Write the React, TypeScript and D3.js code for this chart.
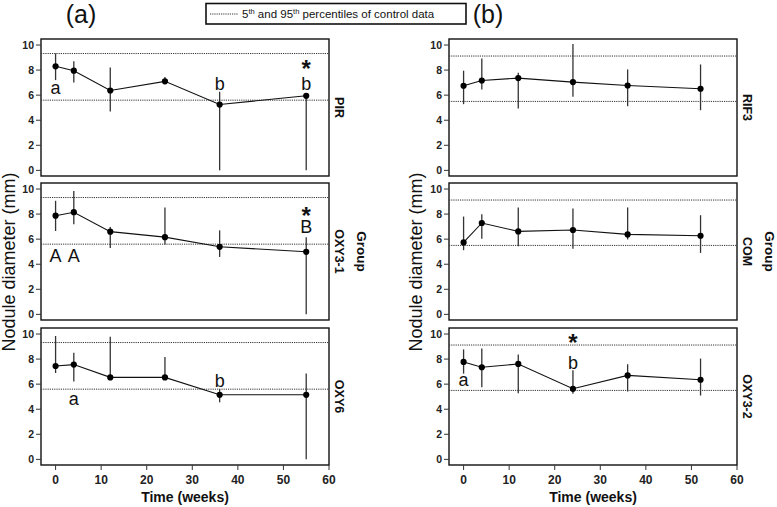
import React from 'react';
import * as d3 from 'd3';

const timesA = [0, 4, 12, 24, 36, 55];
const timesB = [0, 4, 12, 24, 36, 52];

const pirMean = [8.3, 7.95, 6.37, 7.1, 5.25, 5.95];
const pirLo = [7.2, 7.0, 4.7, 6.95, 0, 0];
const pirHi = [9.33, 8.7, 8.2, 7.45, 6.27, 6.1];

const oxy31Mean = [7.87, 8.15, 6.6, 6.16, 5.39, 4.99];
const oxy31Lo = [6.65, 7.18, 5.3, 5.58, 4.58, 0];
const oxy31Hi = [9.06, 9.84, 6.97, 8.53, 6.7, 6.16];

const oxy6Mean = [7.45, 7.56, 6.54, 6.54, 5.15, 5.15];
const oxy6Lo = [6.89, 6.22, 6.54, 6.54, 4.55, 0];
const oxy6Hi = [9.84, 8.5, 9.78, 8.17, 5.6, 6.84];

const rif3Mean = [6.75, 7.17, 7.36, 7.04, 6.77, 6.51];
const rif3Lo = [5.28, 6.45, 4.93, 5.87, 5.12, 4.8];
const rif3Hi = [7.95, 8.93, 7.79, 10.08, 8.05, 8.45];

const comMean = [5.74, 7.29, 6.62, 6.73, 6.38, 6.27];
const comLo = [5.12, 6.03, 5.44, 5.23, 5.98, 4.9];
const comHi = [7.8, 7.99, 8.53, 8.45, 8.53, 7.91];

const oxy32Mean = [7.77, 7.35, 7.61, 5.63, 6.7, 6.35];
const oxy32Lo = [6.84, 5.76, 5.28, 5.23, 5.41, 5.09];
const oxy32Hi = [8.77, 8.85, 8.37, 7.1, 7.59, 8.04];

// 5th and 95th percentiles of control data, per column
const refLinesA = [5.6, 9.32];
const refLinesB = [5.5, 9.12];

const yTicks = [0, 2, 4, 6, 8, 10];
const xTicks = [0, 10, 20, 30, 40, 50, 60];

// significance annotations (letters: baseline value; stars: centre value)
const annGroup = ['PIR', 'PIR', 'PIR', 'PIR', 'OXY3-1', 'OXY3-1', 'OXY3-1', 'OXY3-1', 'OXY6', 'OXY6', 'OXY3-2', 'OXY3-2', 'OXY3-2'];
const annTime = [0, 36, 55, 55, 0, 4, 55, 55, 4, 36, 0, 24, 24];
const annValue = [6.13, 6.45, 6.45, 8.6, 4.18, 4.18, 6.52, 8.4, 4.37, 5.76, 5.82, 7.24, 9.85];
const annText = ['a', 'b', 'b', '*', 'A', 'A', 'B', '*', 'a', 'b', 'a', 'b', '*'];

const W = 777;
const H = 507;
const colX = [[41, 329], [449, 737]];
const rowY = [39, 183, 328];
const panelH = 137;
const FONT = '"Liberation Sans", Arial, Helvetica, sans-serif';

type Panel = {
  name: string;
  col: number;
  row: number;
  times: number[];
  mean: number[];
  lo: number[];
  hi: number[];
};

const panels: Panel[] = [
  { name: 'PIR', col: 0, row: 0, times: timesA, mean: pirMean, lo: pirLo, hi: pirHi },
  { name: 'OXY3-1', col: 0, row: 1, times: timesA, mean: oxy31Mean, lo: oxy31Lo, hi: oxy31Hi },
  { name: 'OXY6', col: 0, row: 2, times: timesA, mean: oxy6Mean, lo: oxy6Lo, hi: oxy6Hi },
  { name: 'RIF3', col: 1, row: 0, times: timesB, mean: rif3Mean, lo: rif3Lo, hi: rif3Hi },
  { name: 'COM', col: 1, row: 1, times: timesB, mean: comMean, lo: comLo, hi: comHi },
  { name: 'OXY3-2', col: 1, row: 2, times: timesB, mean: oxy32Mean, lo: oxy32Lo, hi: oxy32Hi },
];

function PanelView({ p }: { p: Panel }) {
  const [x0, x1] = colX[p.col];
  const top = rowY[p.row];
  const bottom = top + panelH;
  const x = d3.scaleLinear().domain([-3.2, 60]).range([x0, x1]);
  const y = d3.scaleLinear().domain([-0.45, 10.48]).range([bottom, top]);
  const refs = p.col === 0 ? refLinesA : refLinesB;
  const pts = p.times.map((t, i) => [t, p.mean[i]] as [number, number]);
  const line = d3.line<[number, number]>().x((d) => x(d[0])).y((d) => y(d[1]));
  const anns = annGroup.map((g, i) => ({ g, t: annTime[i], v: annValue[i], s: annText[i] })).filter((a) => a.g === p.name);
  const stripX = x1 + 6;
  return (
    <g>
      <rect x={x0} y={top} width={x1 - x0} height={panelH} fill="white" stroke="#111" strokeWidth={1.4} />
      {refs.map((r, i) => (
        <line key={'r' + i} x1={x0} x2={x1} y1={y(r)} y2={y(r)} stroke="#333" strokeWidth={1} strokeDasharray="1.2,1" />
      ))}
      {p.times.map((t, i) => (
        <line key={'e' + i} x1={x(t)} x2={x(t)} y1={y(p.lo[i])} y2={y(p.hi[i])} stroke="#333" strokeWidth={1.3} />
      ))}
      <path d={line(pts) || ''} fill="none" stroke="#111" strokeWidth={1.1} />
      {pts.map((d, i) => (
        <circle key={'c' + i} cx={x(d[0])} cy={y(d[1])} r={3.1} fill="#000" />
      ))}
      {yTicks.map((t) => (
        <g key={'y' + t}>
          <line x1={x0 - 5} x2={x0} y1={y(t)} y2={y(t)} stroke="#333" strokeWidth={1} />
          <text x={x0 - 7} y={y(t)} dy="0.35em" textAnchor="end" fontSize={10.5} fontWeight="bold" fill="#222" fontFamily={FONT}>
            {t}
          </text>
        </g>
      ))}
      {p.row === 2 &&
        xTicks.map((t) => (
          <g key={'x' + t}>
            <line x1={x(t)} x2={x(t)} y1={bottom} y2={bottom + 5} stroke="#333" strokeWidth={1} />
            <text x={x(t)} y={bottom + 19} textAnchor="middle" fontSize={12} fontWeight="bold" fill="#222" fontFamily={FONT}>
              {t}
            </text>
          </g>
        ))}
      {anns.map((a, i) =>
        a.s === '*' ? (
          <text key={'a' + i} x={x(a.t)} y={y(a.v)} dy="0.62em" textAnchor="middle" fontSize={24} fontWeight="bold" fill="#111" fontFamily={FONT}>
            {a.s}
          </text>
        ) : (
          <text key={'a' + i} x={x(a.t)} y={y(a.v)} textAnchor="middle" fontSize={18} fill="#111" fontFamily={FONT}>
            {a.s}
          </text>
        )
      )}
      <text
        transform={`translate(${stripX},${(top + bottom) / 2}) rotate(90)`}
        textAnchor="middle"
        fontSize={12.5}
        fontWeight="bold"
        fill="#111"
        fontFamily={FONT}
      >
        {p.name}
      </text>
    </g>
  );
}

export default function App() {
  const midRowY = rowY[1] + panelH / 2;
  return (
    <svg width={W} height={H} style={{ position: 'absolute', left: 0, top: 0, background: 'white' }}>
      <rect x={0} y={0} width={W} height={H} fill="white" />
      {panels.map((p) => (
        <PanelView key={p.name} p={p} />
      ))}
      {/* Group labels */}
      {colX.map(([, x1], i) => (
        <text
          key={'grp' + i}
          transform={`translate(${x1 + 28},${midRowY}) rotate(90)`}
          textAnchor="middle"
          fontSize={13.5}
          fontWeight="bold"
          fill="#111"
          fontFamily={FONT}
        >
          Group
        </text>
      ))}
      {/* Y axis titles */}
      {[15, 422].map((xx, i) => (
        <text
          key={'yt' + i}
          transform={`translate(${xx},262) rotate(-90)`}
          textAnchor="middle"
          fontSize={18}
          fill="#111"
          fontFamily={FONT}
        >
          Nodule diameter (mm)
        </text>
      ))}
      {/* X axis titles */}
      {colX.map(([x0, x1], i) => (
        <text key={'xt' + i} x={(x0 + x1) / 2} y={502} textAnchor="middle" fontSize={14} fontWeight="bold" fill="#111" fontFamily={FONT}>
          Time (weeks)
        </text>
      ))}
      {/* panel letters */}
      <text x={81} y={23} textAnchor="middle" fontSize={25} fill="#111" fontFamily={FONT}>(a)</text>
      <text x={488} y={23} textAnchor="middle" fontSize={25} fill="#111" fontFamily={FONT}>(b)</text>
      {/* legend */}
      <g>
        <rect x={206} y={3.5} width={260} height={20.5} fill="white" stroke="#111" strokeWidth={1.6} />
        <line x1={210} x2={238} y1={14} y2={14} stroke="#333" strokeWidth={1.1} strokeDasharray="1.2,1" />
        <text x={242} y={18} fontSize={11.5} fill="#111" fontFamily={FONT}>
          5<tspan fontSize={7.5} dy={-4}>th</tspan>
          <tspan dy={4}> and 95</tspan>
          <tspan fontSize={7.5} dy={-4}>th</tspan>
          <tspan dy={4}> percentiles of control data</tspan>
        </text>
      </g>
    </svg>
  );
}
